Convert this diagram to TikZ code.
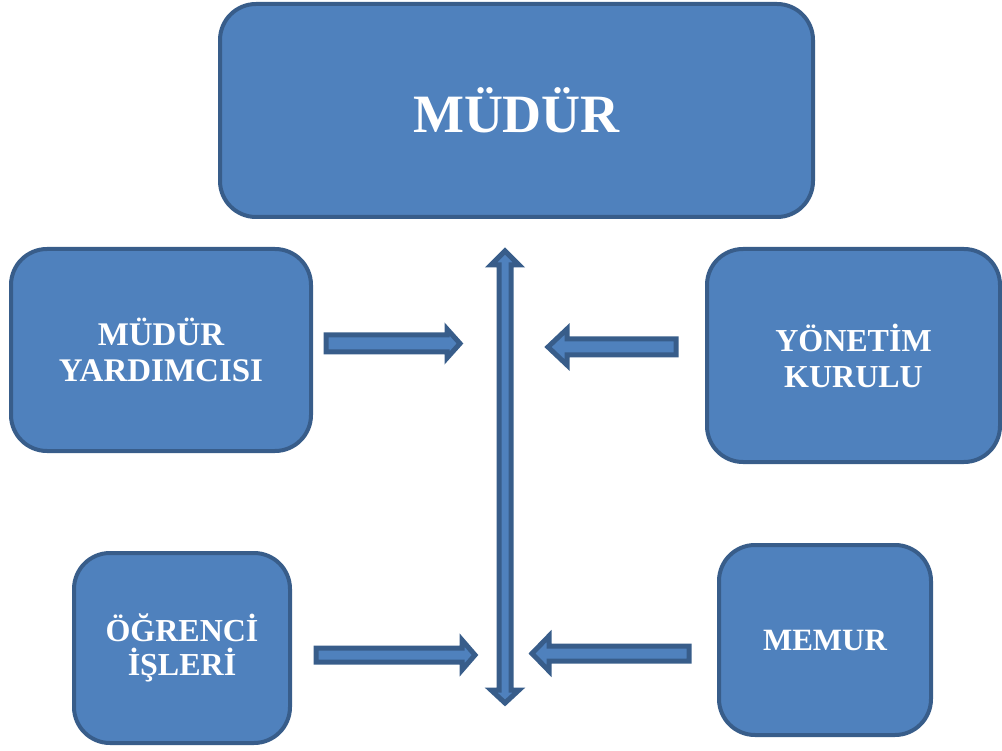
\documentclass[tikz,border=0pt]{standalone}
\usepackage{fontspec}
\setmainfont{Liberation Serif}
\definecolor{boxfill}{HTML}{4F81BD}
\definecolor{boxline}{HTML}{385D8A}
\tikzset{
  orgbox/.style={draw=boxline, fill=boxfill, line width=4pt, rounded corners=36pt,
    text=white, font=\bfseries\fontsize{32}{36}\selectfont, align=center, inner sep=0pt},
  blockarr/.style={draw=boxline, fill=boxfill, line width=5pt, line join=miter}
}
\begin{document}
\begin{tikzpicture}[x=1pt,y=-1pt]
\useasboundingbox (0,0) rectangle (1002,751);
% boxes
\node[orgbox, minimum width=593pt, minimum height=213pt, font=\bfseries\fontsize{54}{60}\selectfont] (mudur) at (516.5,110.5) {MÜDÜR};
\node[orgbox, minimum width=300pt, minimum height=202pt, font=\bfseries\fontsize{33}{36}\selectfont] (yard) at (161,350) {MÜDÜR\\YARDIMCISI};
\node[orgbox, minimum width=293pt, minimum height=213pt] (yk) at (853.5,355.5) {YÖNETİM\\KURULU};
\node[orgbox, minimum width=216pt, minimum height=190pt, font=\bfseries\fontsize{32}{34}\selectfont] (og) at (182,648) {ÖĞRENCİ\\İŞLERİ};
\node[orgbox, minimum width=212pt, minimum height=190pt, font=\bfseries\fontsize{31}{36}\selectfont] (memur) at (825,640) {MEMUR};
% vertical double arrow
\draw[blockarr] (505,251) -- (519,265) -- (511,265) -- (511,690) -- (519,690) -- (505,703)
  -- (491,690) -- (499,690) -- (499,265) -- (491,265) -- cycle;
% arrow from MÜDÜR YARDIMCISI
\draw[blockarr] (326,335) -- (447,335) -- (447,329) -- (460,343.5) -- (447,358) -- (447,352) -- (326,352) -- cycle;
% arrow from YÖNETİM KURULU
\draw[blockarr] (676,339) -- (567,339) -- (567,329) -- (548,347) -- (567,365) -- (567,355) -- (676,355) -- cycle;
% arrow from ÖĞRENCİ İŞLERİ
\draw[blockarr] (316,648) -- (462,648) -- (462,640) -- (475,655) -- (462,670) -- (462,662) -- (316,662) -- cycle;
% arrow from MEMUR
\draw[blockarr] (689,646) -- (549,646) -- (549,636) -- (532,653.5) -- (549,671) -- (549,661) -- (689,661) -- cycle;
\end{tikzpicture}
\end{document}
